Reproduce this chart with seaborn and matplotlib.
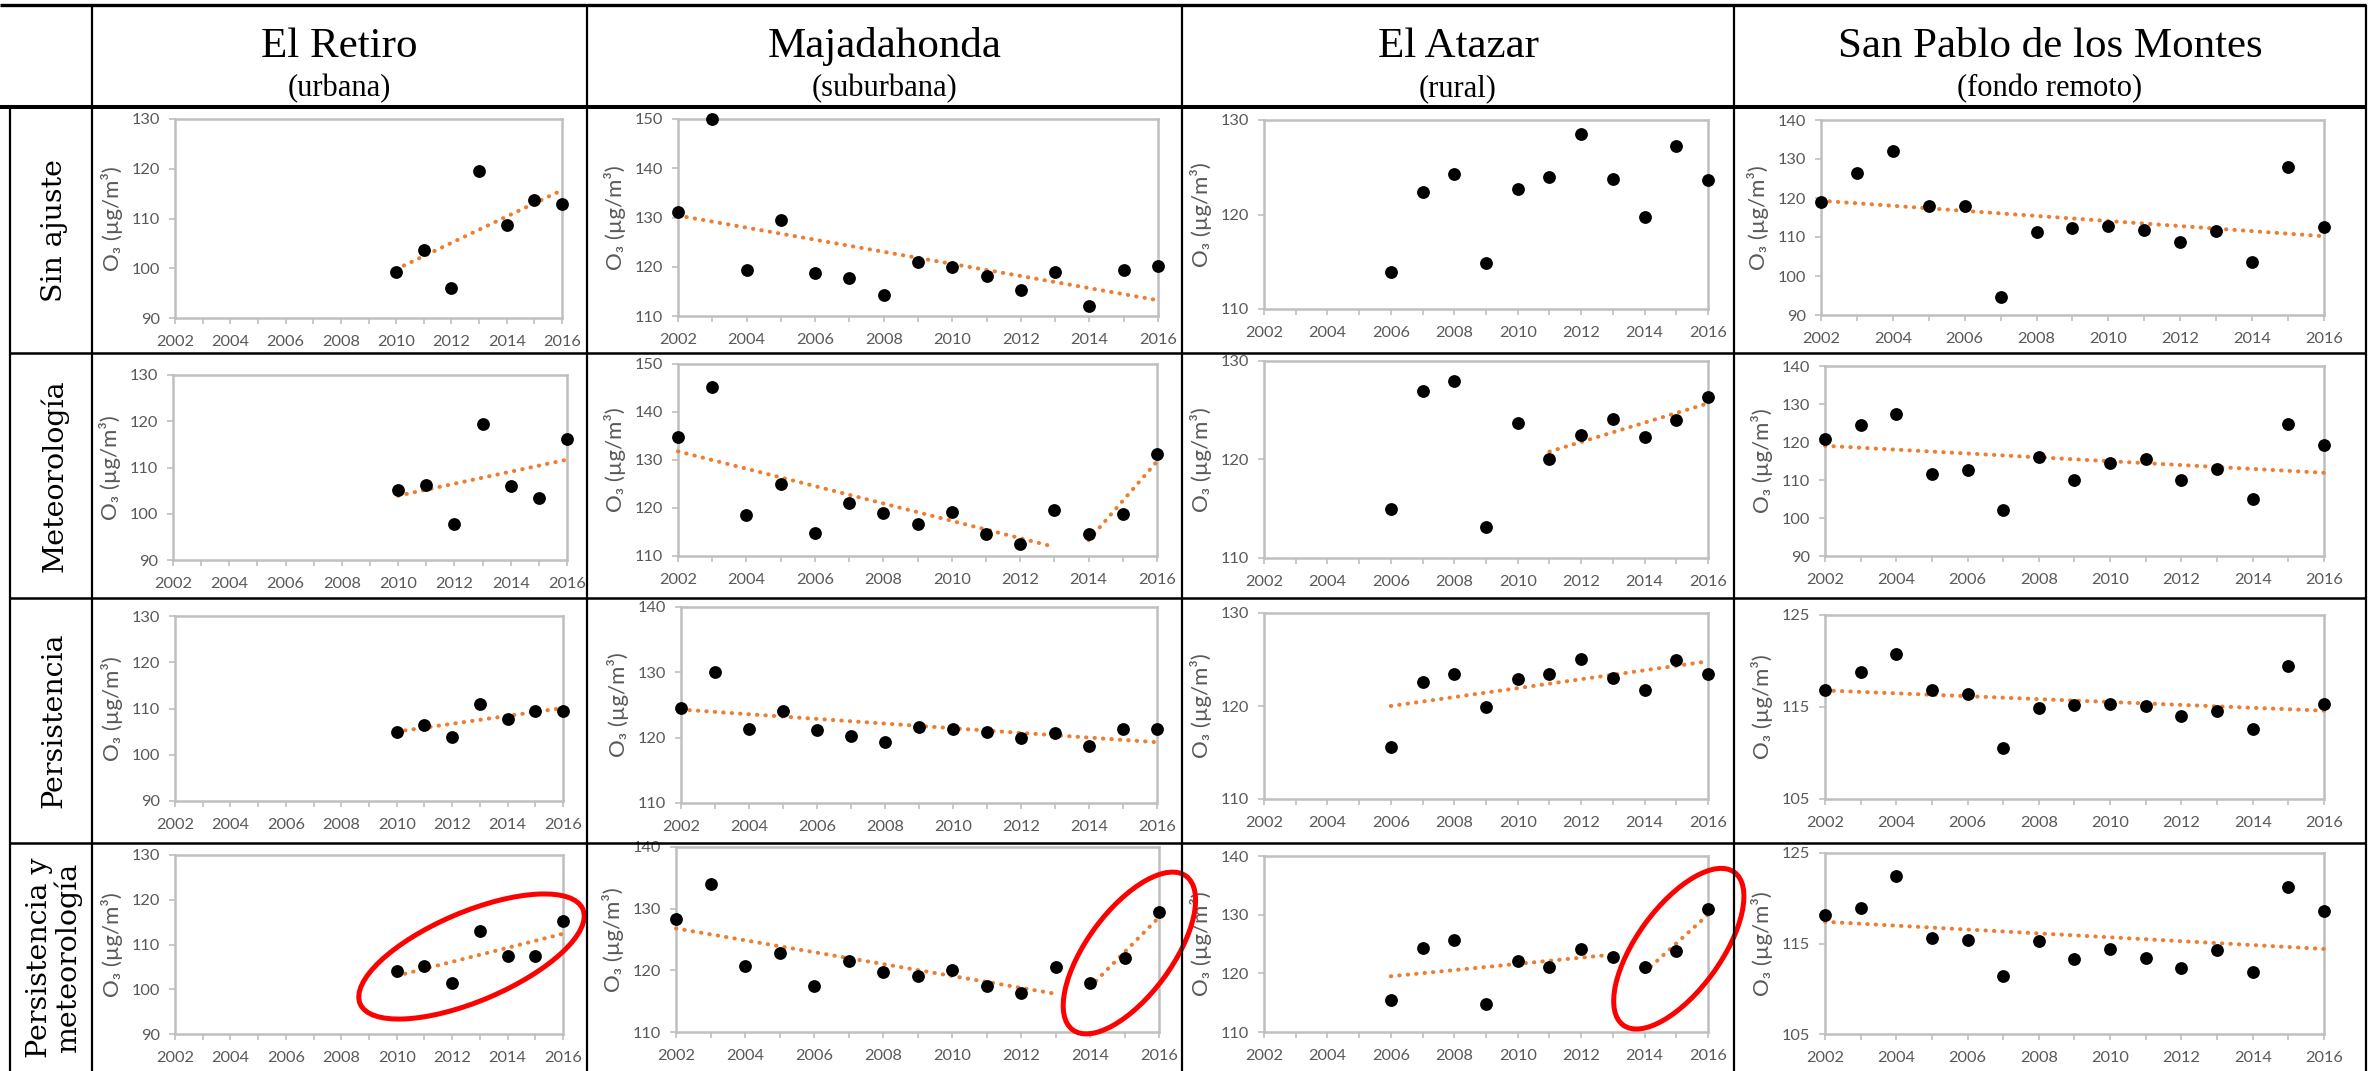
import numpy as np
import pandas as pd
import matplotlib
matplotlib.use("Agg")
import matplotlib.pyplot as plt
import seaborn as sns
from matplotlib.patches import Ellipse
from matplotlib.ticker import MultipleLocator

# ---------------- data ----------------
years_all = list(range(2002, 2017))
years_retiro = list(range(2010, 2017))
years_atazar = list(range(2006, 2017))

stations = ["El Retiro", "Majadahonda", "El Atazar", "San Pablo de los Montes"]
station_types = ["(urbana)", "(suburbana)", "(rural)", "(fondo remoto)"]
adjustments = ["Sin ajuste", "Meteorología", "Persistencia", "Persistencia y\nmeteorología"]
ylabel_text = "O₃ (µg/m³)"

retiro_sin = [99.2, 103.7, 96.0, 119.5, 108.7, 113.8, 112.9]
retiro_met = [105.2, 106.2, 97.7, 119.5, 106.0, 103.5, 116.1]
retiro_per = [105.0, 106.4, 103.9, 110.9, 107.8, 109.5, 109.5]
retiro_pm = [104.0, 105.1, 101.5, 113.0, 107.5, 107.4, 115.2]

maja_sin = [131.1, 150.0, 119.4, 129.4, 118.7, 117.8, 114.2, 121.0, 119.9, 118.2, 115.3, 118.9, 112.0, 119.4, 120.1]
maja_met = [134.7, 145.3, 118.6, 125.1, 114.8, 121.1, 119.0, 116.6, 119.2, 114.5, 112.6, 119.5, 114.5, 118.8, 131.2]
maja_per = [124.5, 130.1, 121.4, 124.1, 121.1, 120.3, 119.4, 121.7, 121.4, 120.9, 119.9, 120.7, 118.8, 121.3, 121.4]
maja_pm = [128.3, 134.0, 120.7, 122.8, 117.5, 121.5, 119.8, 119.0, 120.1, 117.5, 116.3, 120.6, 117.9, 122.0, 129.5]

atazar_sin = [113.9, 122.4, 124.3, 114.9, 122.7, 124.0, 128.5, 123.8, 119.7, 127.3, 123.6]
atazar_met = [115.0, 127.0, 128.0, 113.1, 123.7, 120.0, 122.5, 124.1, 122.3, 124.0, 126.3]
atazar_per = [115.6, 122.6, 123.4, 119.9, 122.9, 123.4, 125.1, 123.0, 121.7, 125.0, 123.4]
atazar_pm = [115.4, 124.3, 125.7, 114.8, 122.1, 121.1, 124.1, 122.7, 121.0, 123.8, 130.9]

sanpablo_sin = [118.9, 126.3, 132.1, 118.0, 118.0, 94.7, 111.2, 112.4, 112.8, 111.8, 108.6, 111.5, 103.5, 128.0, 112.5]
sanpablo_met = [120.9, 124.6, 127.3, 111.7, 112.6, 102.2, 116.1, 110.0, 114.6, 115.4, 110.0, 113.0, 104.9, 124.7, 119.2]
sanpablo_per = [116.8, 118.8, 120.8, 116.8, 116.4, 110.5, 114.9, 115.2, 115.3, 115.1, 114.0, 114.6, 112.6, 119.5, 115.3]
sanpablo_pm = [118.2, 118.9, 122.5, 115.6, 115.4, 111.4, 115.3, 113.3, 114.4, 113.4, 112.3, 114.3, 111.9, 121.2, 118.6]

# trend segments: (year_start, value_start, year_end, value_end)
retiro_sin_trend = [(2010, 99.8, 2016, 115.7)]
retiro_met_trend = [(2010, 103.9, 2016, 111.7)]
retiro_per_trend = [(2010, 105.0, 2016, 110.1)]
retiro_pm_trend = [(2010, 103.0, 2016, 112.4)]
maja_sin_trend = [(2002, 130.4, 2016, 113.2)]
maja_met_trend = [(2002, 131.8, 2013, 111.9), (2014, 113.3, 2016, 129.7)]
maja_per_trend = [(2002, 124.3, 2016, 119.3)]
maja_pm_trend = [(2002, 126.8, 2013, 116.2), (2014, 117.3, 2016, 128.6)]
atazar_sin_trend = []
atazar_met_trend = [(2011, 120.8, 2016, 125.7)]
atazar_per_trend = [(2006, 120.0, 2016, 124.8)]
atazar_pm_trend = [(2006, 119.5, 2013, 123.2), (2014, 120.2, 2016, 130.0)]
sanpablo_sin_trend = [(2002, 119.3, 2016, 110.2)]
sanpablo_met_trend = [(2002, 119.0, 2016, 111.9)]
sanpablo_per_trend = [(2002, 116.8, 2016, 114.6)]
sanpablo_pm_trend = [(2002, 117.4, 2016, 114.4)]

# y-axis ranges (min, max, step)
retiro_range = [(90, 130, 10)] * 4
maja_range = [(110, 150, 10), (110, 150, 10), (110, 140, 10), (110, 140, 10)]
atazar_range = [(110, 130, 10), (110, 130, 10), (110, 130, 10), (110, 140, 10)]
sanpablo_range = [(90, 140, 10), (90, 140, 10), (105, 125, 10), (105, 125, 10)]

series = [
    [(years_retiro, retiro_sin, retiro_sin_trend), (years_all, maja_sin, maja_sin_trend),
     (years_atazar, atazar_sin, atazar_sin_trend), (years_all, sanpablo_sin, sanpablo_sin_trend)],
    [(years_retiro, retiro_met, retiro_met_trend), (years_all, maja_met, maja_met_trend),
     (years_atazar, atazar_met, atazar_met_trend), (years_all, sanpablo_met, sanpablo_met_trend)],
    [(years_retiro, retiro_per, retiro_per_trend), (years_all, maja_per, maja_per_trend),
     (years_atazar, atazar_per, atazar_per_trend), (years_all, sanpablo_per, sanpablo_per_trend)],
    [(years_retiro, retiro_pm, retiro_pm_trend), (years_all, maja_pm, maja_pm_trend),
     (years_atazar, atazar_pm, atazar_pm_trend), (years_all, sanpablo_pm, sanpablo_pm_trend)],
]
ranges = [retiro_range, maja_range, atazar_range, sanpablo_range]

# ---------------- layout (pixels: left, right, top, bottom) ----------------
W, H = 2369, 1071
boxes = [
    [(175, 562, 119, 318), (678, 1158, 119, 316), (1264, 1708, 120, 309), (1821, 2324, 120, 315)],
    [(173, 567, 375, 560), (678, 1157, 364, 556), (1264, 1708, 361, 558), (1825, 2324, 366, 556)],
    [(175, 563, 616, 801), (681, 1157, 607, 803), (1264, 1708, 613, 799), (1825, 2324, 615, 799)],
    [(175, 563, 855, 1034), (676, 1159, 847, 1032), (1264, 1708, 856, 1032), (1825, 2324, 853, 1034)],
]

ORANGE = "#ED7D31"
AXGRAY = "#BFBFBF"
TXTGRAY = "#595959"

sns.set_theme(style="ticks")
plt.rcParams['font.family'] = ['Lato', 'DejaVu Sans']

fig = plt.figure(figsize=(W / 100, H / 100), dpi=100)
fig.patch.set_facecolor("white")

for r in range(4):
    for c in range(4):
        L, R, T, B = boxes[r][c]
        ax = fig.add_axes([L / W, 1 - B / H, (R - L) / W, (B - T) / H])
        yrs, vals, trends = series[r][c]
        df = pd.DataFrame({"Año": yrs, "O3": vals})
        for (x0, y0, x1, y1) in trends:
            tdf = pd.DataFrame({"Año": [x0, x1], "O3": [y0, y1]})
            sns.lineplot(data=tdf, x="Año", y="O3", ax=ax, color=ORANGE,
                         linewidth=2.9, linestyle=(0, (0.1, 2.0)),
                         dash_capstyle="round", zorder=3, clip_on=False)
        sns.scatterplot(data=df, x="Año", y="O3", ax=ax, color="black",
                        s=85, edgecolor="black", linewidth=0, zorder=4, clip_on=False)
        ylo, yhi, ystep = ranges[c][r]
        ax.set_xlim(2002, 2016)
        ax.set_ylim(ylo, yhi)
        ax.set_yticks(np.arange(ylo, yhi + 0.01, ystep))
        ax.xaxis.set_major_locator(MultipleLocator(2))
        ax.xaxis.set_minor_locator(MultipleLocator(1))
        for sp in ax.spines.values():
            sp.set_visible(True)
            sp.set_color(AXGRAY)
            sp.set_linewidth(1.8)
        ax.tick_params(axis="both", which="both", direction="out", color=AXGRAY,
                       width=1.2, length=4, labelcolor=TXTGRAY, labelsize=11.8,
                       bottom=True, left=True, top=False, right=False)
        ax.tick_params(axis="x", which="both", pad=8)
        ax.tick_params(axis="y", pad=7)
        ax.tick_params(axis="y", which="minor", left=False)
        ax.set_xlabel("")
        ax.set_ylabel(ylabel_text, fontsize=16, color=TXTGRAY,
                      family=['Lato', 'DejaVu Sans'])
        ax.yaxis.set_label_coords(-52 / (R - L), 0.5)
        ax.set_facecolor("white")

# ---------------- overlay: table, headers, ellipses ----------------
ov = fig.add_axes([0, 0, 1, 1], zorder=10)
ov.set_xlim(0, W)
ov.set_ylim(H, 0)
ov.axis("off")
ov.patch.set_alpha(0)

ov.plot([0, 2366], [5, 5], color="black", lw=2.4, solid_capstyle="butt")
ov.plot([0, 2366], [107, 107], color="black", lw=2.9, solid_capstyle="butt")
for yy in [353, 598, 843]:
    ov.plot([10, 2366], [yy, yy], color="black", lw=1.8, solid_capstyle="butt")
for xx in [92, 587, 1182, 1734, 2366]:
    ov.plot([xx, xx], [5, H], color="black", lw=1.6, solid_capstyle="butt")
ov.plot([10, 10], [107, H], color="black", lw=1.6, solid_capstyle="butt")

col_centers = [339.5, 884.5, 1458, 2050]
for cx, name, typ in zip(col_centers, stations, station_types):
    ov.text(cx, 57, name, ha="center", va="baseline", family="Liberation Serif",
            fontsize=31, color="black")
    ov.text(cx, 96, typ, ha="center", va="baseline", family="Liberation Serif",
            fontsize=22, color="black")

row_centers = [230, 475.5, 720.5, 958]
for cy, lab in zip(row_centers, adjustments):
    ov.text(54, cy, lab, rotation=90, ha="center", va="center",
            family="DejaVu Serif", fontsize=20.5, color="black", linespacing=1.05)

for (cx, cy, w, h, ang) in [(471.5, 956.5, 242, 89, -23),
                            (1129.4, 953, 191, 85, -53.6),
                            (1678.8, 948.7, 189, 84, -54)]:
    ov.add_patch(Ellipse((cx, cy), w, h, angle=ang, fill=False,
                         edgecolor="#FF0000", lw=3.6, clip_on=False))

fig.savefig("out.png", dpi=100, facecolor="white")
